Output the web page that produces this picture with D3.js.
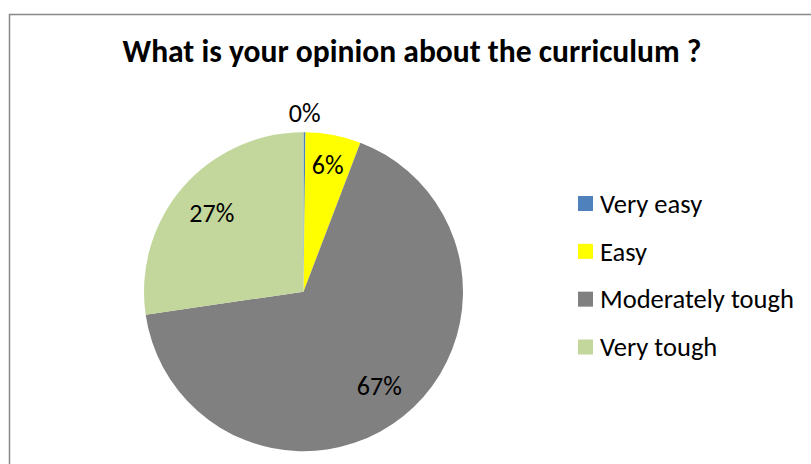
<!DOCTYPE html>
<html>
<head>
<meta charset="utf-8">
<script src="https://cdn.jsdelivr.net/npm/d3@7"></script>
<style>
  html, body { margin: 0; padding: 0; background: #fff; }
  svg { display: block; }
</style>
</head>
<body>
<svg id="chart" width="811" height="464"></svg>
<script>
const title = "What is your opinion about the curriculum ?";
const categories = ["Very easy", "Easy", "Moderately tough", "Very tough"];
const values = [0.2, 5.6, 66.9, 27.3];
const labels = ["0%", "6%", "67%", "27%"];
const colors = ["#4F81BD", "#FFFF00", "#808080", "#C3D69B"];

const FONT = "Carlito, Calibri, Lato, 'Open Sans', sans-serif";
const svg = d3.select("#chart");

// chart area border
svg.append("rect")
  .attr("x", 9.5).attr("y", 14.5)
  .attr("width", 1000).attr("height", 1000)
  .attr("fill", "#fff")
  .attr("stroke", "#878787")
  .attr("stroke-width", 1.5);

function fitText(sel, targetWidth) {
  const node = sel.node();
  const base = parseFloat(sel.attr("font-size"));
  const w = node.getComputedTextLength();
  if (w > 0) sel.attr("font-size", base * targetWidth / w);
  return sel;
}

// title
const t = svg.append("text")
  .attr("x", 412).attr("y", 62)
  .attr("text-anchor", "middle")
  .attr("font-family", FONT)
  .attr("font-weight", "bold")
  .attr("font-size", 26)
  .attr("fill", "#000")
  .text(title);
fitText(t, 579);

// pie
const cx = 303.5, cy = 291.7, r = 159.5;
const pie = d3.pie().sort(null).value(d => d).startAngle(0).endAngle(2 * Math.PI);
const arcs = pie(values);
const arc = d3.arc().innerRadius(0).outerRadius(r);
const g = svg.append("g").attr("transform", `translate(${cx},${cy})`);

g.selectAll("path.slice")
  .data(arcs)
  .join("path")
  .attr("class", "slice")
  .attr("d", arc)
  .attr("fill", (d, i) => colors[i]);

// data labels
const total = d3.sum(values);
function labelRadius(d) {
  const frac = d.value / total;
  if (frac < 0.01) return r * 1.12;
  if (frac < 0.1) return r * 0.81;
  return r * 0.76;
}
const labelSel = g.selectAll("text.lbl")
  .data(arcs)
  .join("text")
  .attr("class", "lbl")
  .attr("transform", d => {
    const a = (d.startAngle + d.endAngle) / 2;
    const lr = labelRadius(d);
    return `translate(${lr * Math.sin(a)},${-lr * Math.cos(a)})`;
  })
  .attr("text-anchor", "middle")
  .attr("dy", "0.35em")
  .attr("font-family", FONT)
  .attr("font-size", 23)
  .attr("fill", "#000")
  .text((d, i) => labels[i]);

// fit label font size so "27%" is ~45px wide
(function () {
  const probe = labelSel.filter((d, i) => i === 3);
  const w = probe.node().getComputedTextLength();
  const s = 23 * 45 / w;
  labelSel.attr("font-size", s);
})();

// legend
const legY = d3.scalePoint().domain(categories).range([203.5, 347]);
const leg = svg.append("g");
const items = leg.selectAll("g.item")
  .data(categories)
  .join("g")
  .attr("class", "item")
  .attr("transform", d => `translate(0,${legY(d)})`);
items.append("rect")
  .attr("x", 578).attr("y", -7.5)
  .attr("width", 15).attr("height", 15)
  .attr("fill", (d, i) => colors[i]);
const legText = items.append("text")
  .attr("x", 600)
  .attr("dy", "0.35em")
  .attr("font-family", FONT)
  .attr("font-size", 23)
  .attr("fill", "#000")
  .text(d => d);
(function () {
  const probe = legText.filter(d => d === "Moderately tough");
  const w = probe.node().getComputedTextLength();
  legText.attr("font-size", 23 * 194 / w);
})();
</script>
</body>
</html>
